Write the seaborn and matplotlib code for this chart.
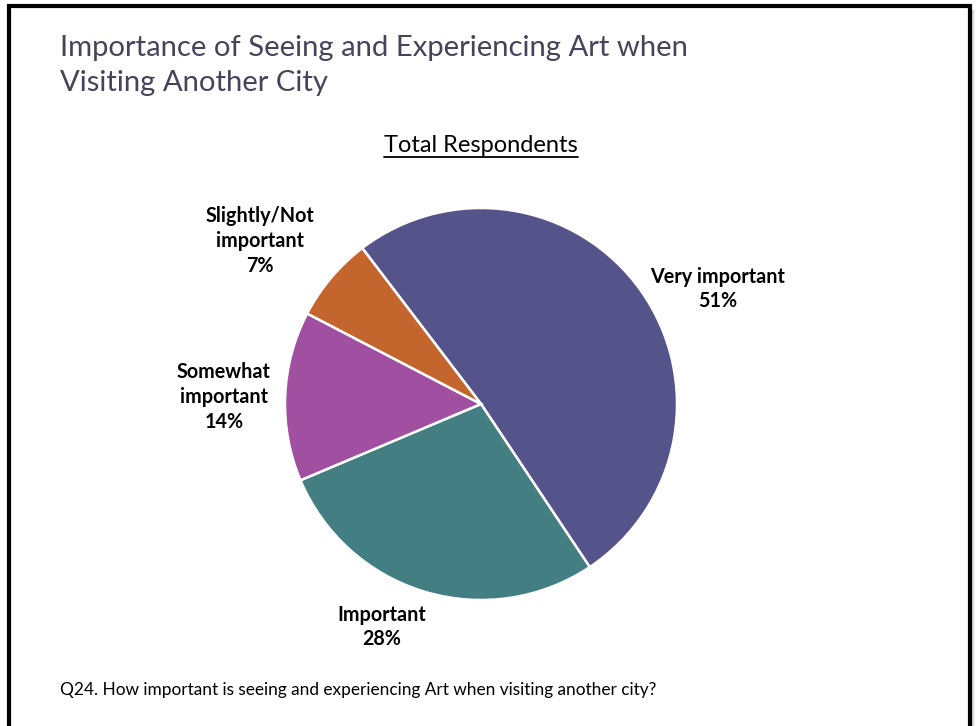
import matplotlib
matplotlib.use("Agg")
import matplotlib.pyplot as plt
import seaborn as sns

# data
categories = ["Very important", "Important", "Somewhat\nimportant", "Slightly/Not\nimportant"]
shares = [51, 28, 14, 7]
colors = ["#55548A", "#437F82", "#A04FA1", "#C4652E"]
title_lines = ["Importance of Seeing and Experiencing Art when", "Visiting Another City"]

sns.set_theme(style="white")
plt.rcParams['font.family'] = ['Lato', 'DejaVu Sans']

W, H = 976, 726
fig = plt.figure(figsize=(W / 100, H / 100), dpi=100)
ax = fig.add_axes([0, 0, 1, 1])

# pie (pixel space, y measured from the top of the slide)
cx, cy, r = 481, 404, 196
wedges, _ = ax.pie(shares, colors=colors, startangle=127.3, counterclock=False,
                   center=(cx, H - cy), radius=r,
                   wedgeprops=dict(edgecolor="white", linewidth=1.8))
ax.set_xlim(0, W)
ax.set_ylim(0, H)
ax.set_aspect("equal")
ax.axis("off")

# slice labels
label_pos = [(718, 289), (382, 627), (224, 397), (260, 241)]
for cat, val, (lx, ly) in zip(categories, shares, label_pos):
    ax.text(lx, H - ly, f"{cat}\n{val}%", ha="center", va="center",
            fontsize=14.2, fontweight="bold", color="black", linespacing=1.3)

# slide title
for i, line in enumerate(title_lines):
    ax.text(60, H - 56 - 35 * i, line, ha="left", va="baseline",
            fontsize=21.1, color="#44445A")

# chart subtitle, underlined
sub = ax.text(481, H - 146, "Total Respondents", ha="center", va="center",
              fontsize=17, color="black")
fig.canvas.draw()
bb = sub.get_window_extent()
ax.plot([bb.x0, bb.x1], [bb.y0, bb.y0], color="black", lw=1.3)

# footnote
ax.text(60, H - 690, "Q24. How important is seeing and experiencing Art when visiting another city?",
        ha="left", va="center", fontsize=12.4, color="black")

# slide frame with a soft shadow on the right
for i, g in enumerate(["#9A9A9A", "#B5B5B5", "#CFCFCF", "#E6E6E6"]):
    ax.plot([971 + i, 971 + i], [H - 10, -5], color=g, lw=1.2, solid_capstyle="butt")
ax.plot([8.5, 8.5, 969.5, 969.5], [-5, H - 5.5, H - 5.5, -5], color="black", lw=3,
        solid_joinstyle="miter")

fig.savefig("out.png", dpi=100)
